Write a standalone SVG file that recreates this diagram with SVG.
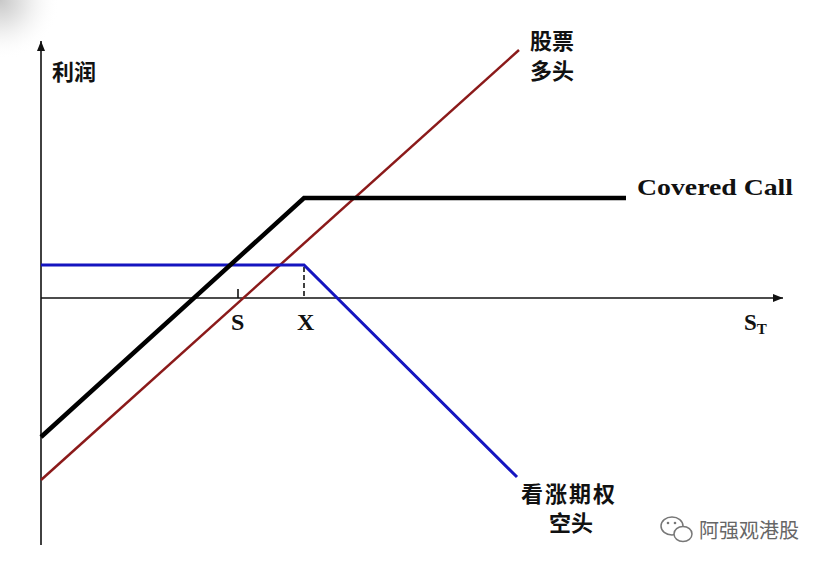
<svg xmlns="http://www.w3.org/2000/svg" width="825" height="567" viewBox="0 0 825 567">
<defs>
<style>
.ax{stroke:#111;stroke-width:1.6;fill:none}
.cjk{font-family:"Noto Sans CJK SC",sans-serif;font-size:22px;font-weight:700;fill:#111}
.ser{font-family:"Liberation Serif",serif;font-weight:700;fill:#111}
</style>
<marker id="arr" viewBox="0 0 10 10" refX="10" refY="5" markerWidth="10" markerHeight="10" markerUnits="userSpaceOnUse" orient="auto">
<path d="M0,1 L10,5 L0,9 Z" fill="#111"/>
</marker>
<radialGradient id="bg" cx="0" cy="0" r="1">
<stop offset="0" stop-color="#c8c8c8"/>
<stop offset="0.5" stop-color="#ededed"/>
<stop offset="1" stop-color="#ffffff" stop-opacity="0"/>
</radialGradient>
</defs>
<rect width="825" height="567" fill="#fff"/>
<rect x="0" y="0" width="60" height="60" fill="url(#bg)"/>
<g id="axes">
<line class="ax" x1="41" y1="545" x2="41" y2="41" marker-end="url(#arr)"/>
<line class="ax" x1="41" y1="298" x2="783" y2="298" marker-end="url(#arr)"/>
<line class="ax" x1="238" y1="289" x2="238" y2="298"/>
<line class="ax" x1="304" y1="267" x2="304" y2="298" stroke-dasharray="5,3"/>
</g>
<g id="connectors">
<polyline id="stock-long" points="41,480 519,50" fill="none" stroke="#8b1a1a" stroke-width="2.5"/>
<polyline id="call-short" points="41,265 304,265 517,477" fill="none" stroke="#1515c0" stroke-width="3"/>
<polyline id="covered-call" points="41,437 304,198 626,198" fill="none" stroke="#000" stroke-width="4.5"/>
</g>
<g id="labels">
<text class="cjk" x="52" y="80">利润</text>
<text class="cjk" x="530" y="49">股票</text>
<text class="cjk" x="530" y="79">多头</text>
<text class="ser" x="637" y="195" font-size="24" textLength="156" lengthAdjust="spacingAndGlyphs">Covered Call</text>
<text class="ser" x="231" y="330" font-size="24">S</text>
<text class="ser" x="297" y="330" font-size="24">X</text>
<text class="ser" x="744" y="330" font-size="23">S<tspan font-size="15" dy="4">T</tspan></text>
<text class="cjk" x="521" y="502" font-size="24" letter-spacing="2">看涨期权</text>
<text class="cjk" x="549" y="531" font-size="23">空头</text>
</g>
<g id="watermark" fill="none" stroke="#777" stroke-width="1.5">
<ellipse cx="672" cy="526" rx="11" ry="9"/>
<ellipse cx="683" cy="534" rx="9" ry="7.5" fill="#fff"/>
<circle cx="668" cy="523" r="1.3" fill="#777" stroke="none"/>
<circle cx="675" cy="523" r="1.3" fill="#777" stroke="none"/>
<text x="699" y="538" font-family="Noto Sans CJK SC,sans-serif" font-size="20" fill="#666" stroke="none">阿强观港股</text>
</g>
</svg>
